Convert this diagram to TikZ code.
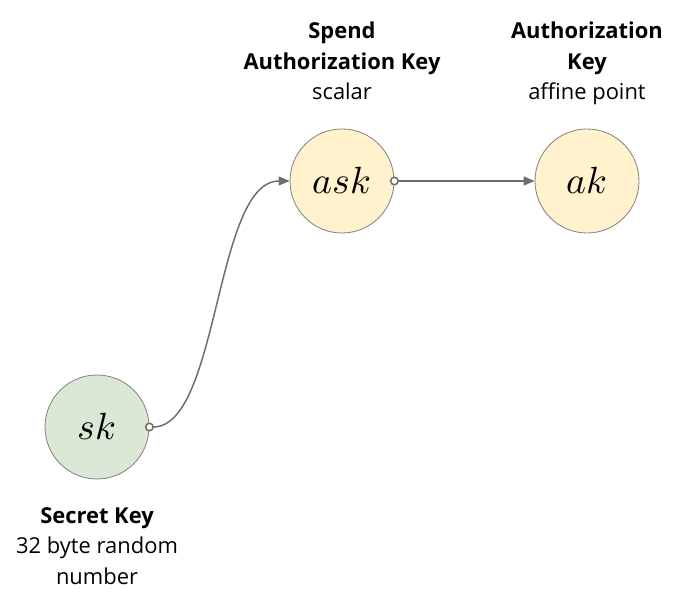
\documentclass[tikz,border=0pt]{standalone}
\usepackage{fontspec}
\usepackage{unicode-math}
\setmainfont{Open Sans}
\setmathfont{Latin Modern Math}
\usetikzlibrary{positioning,arrows.meta}
\definecolor{keyyellow}{HTML}{FFF2CC}
\definecolor{keygreen}{HTML}{DAE8D5}
\definecolor{linegray}{HTML}{6E6E6E}
\begin{document}
\begin{tikzpicture}[
  x=1bp,y=1bp,
  font=\fontsize{22}{30.5}\selectfont,
  key/.style={circle,draw=black!50,line width=0.8bp,minimum size=104bp,inner sep=0pt,font=\fontsize{38}{40}\selectfont},
  pubkey/.style={key,fill=keyyellow},
  seckey/.style={key,fill=keygreen},
  caption/.style={align=center,inner sep=0pt,text depth=0pt},
  link/.style={draw=linegray,line width=1.5bp,shorten <=-4.5bp,
    {Circle[open,fill=white,length=9bp]}-{Triangle[length=11bp,width=9bp]}}
]
\useasboundingbox (0,0) rectangle (700,-598);
% ---- keys ----
\node[seckey] (sk) at (97,-427) {$sk$};
\node[pubkey] (ask) at (342,-181) {$ask$};
\node[pubkey] (ak) at (587,-181) {$ak$};
% ---- captions ----
\node[caption,below=28bp of sk] (skcap) {{\bfseries Secret Key}\\32 byte random\\number};
\node[caption,above=29bp of ask] (askcap) {{\bfseries Spend}\\{\bfseries Authorization Key}\\scalar};
\node[caption,above=29bp of ak] (akcap) {{\bfseries Authorization}\\{\bfseries Key}\\affine point};
% ---- derivations ----
\draw[link] (sk.east) .. controls +(70,0) and +(-75,0) .. (ask.west);
\draw[link] (ask.east) -- (ak.west);
\end{tikzpicture}
\end{document}
